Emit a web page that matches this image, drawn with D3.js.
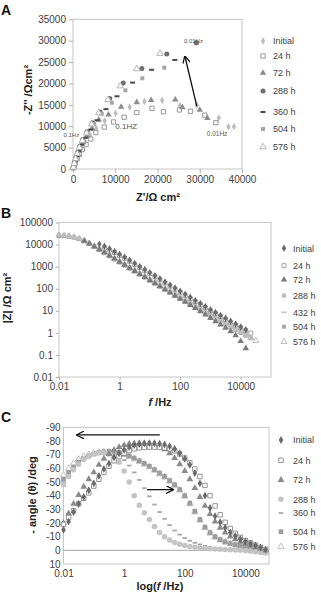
<!DOCTYPE html>
<html>
<head>
<meta charset="utf-8">
<script src="https://cdn.jsdelivr.net/npm/d3@7"></script>
<style>
body { margin: 0; background: #fff; }
text { font-family: "Liberation Sans", Arial, sans-serif; }
</style>
</head>
<body>
<div id="chart"></div>
<script>
// ---- panel A: Nyquist, [Z', -Z''] ----
const nyqInitial = [[100,250],[300,800],[600,1600],[1000,2600],[1500,3700],[2100,4900],[2900,6300],[4000,7900],[5500,9500],[7500,11300],[10100,13000],[13400,14500],[16900,15800],[21100,16000],[25300,14800],[29300,14900],[34500,11900],[36800,9900],[38100,9900]];
const nyq24 = [[100,250],[300,750],[600,1500],[1000,2400],[1500,3400],[2200,4500],[3100,5700],[4200,7000],[5400,8500],[7400,9800],[9600,11000],[12100,12100],[15100,13200],[18700,14200],[21400,13400],[25200,13800],[27800,13500],[31200,12600],[33800,10800]];
const nyq72 = [[150,500],[400,1300],[700,2300],[1100,3500],[1700,4800],[2400,6200],[3300,7800],[4500,9500],[6100,11500],[8400,12700],[11400,14500],[15100,15600],[18500,16100],[24200,16200],[25900,14400],[30000,13800],[31800,11900]];
const nyq288 = [[80,350],[200,900],[400,1700],[700,2700],[1100,3900],[1600,5300],[2300,6900],[3300,8700],[4600,10800],[6400,13300],[8700,16500],[11900,20100],[16300,23500],[22200,26900],[29200,29500]];
const nyq360 = [[80,350],[250,1000],[500,1900],[900,3000],[1400,4200],[2100,5700],[3000,7300],[4200,9200],[5700,11400],[7800,14000],[10400,17000],[14100,20200],[18600,23200],[24100,25500]];
const nyq504 = [[120,400],[400,1400],[750,2400],[1200,3600],[1800,5000],[2600,6600],[3600,8400],[5000,10500],[6800,12900],[9200,15500],[12400,18400],[16400,21200],[21600,23700]];
const nyq576 = [[100,400],[300,1300],[600,2400],[1000,3600],[1500,5000],[2200,6600],[3200,8400],[4400,10500],[6100,13100],[8300,16200],[11200,19400],[15100,23400],[20600,27000]];
const ticksAx = [0, 10000, 20000, 30000, 40000];
const ticksAy = [0, 5000, 10000, 15000, 20000, 25000, 30000, 35000];

// ---- shared frequencies (Hz) for panels B and C ----
const freq = [0.01,0.0147,0.0215,0.0316,0.0464,0.0681,0.1,0.147,0.215,0.316,0.464,0.681,1,1.47,2.15,3.16,4.64,6.81,10,14.7,21.5,31.6,46.4,68.1,100,147,215,316,464,681,1000,1470,2150,3160,4640,6810,10000,14700,21500,31600,46400];

// ---- panel B: |Z| ----
const bInitial = [null,null,null,null,null,null,null,null,10500,8320,6460,4900,3630,2690,1950,1410,1020,741,537,389,282,204,148,107,77.6,56.2,40.7,29.5,21.4,15.5,11.2,8.32,6.17,4.57,3.39,2.51,1.86,1.38];
const b24 = [null,null,null,null,null,null,null,null,null,7080,5620,4370,3240,2400,1740,1260,912,661,479,347,251,182,132,95.5,69.2,50.1,36.3,26.3,19.1,13.8,10,7.41,5.5,4.07,3.02,2.24,1.7,1.29,0.977];
const b72 = [null,null,null,null,null,14500,11000,8130,6030,4370,3160,2290,1660,1200,871,631,457,331,240,174,126,91.2,66.1,47.9,34.7,25.1,18.2,13.2,9.33,6.61,4.68,3.31,2.34,1.66,1.17,0.759,0.417,0.2];
const b288 = [28200,26900,25100,22400,19100,15100,11500,8510,6170,4470,3240,2340,1700,1230,891,661,479,355,257,191,138,102,74.1,55,39.8,29.5,21.9,15.8,11.7,8.71,6.31,4.68,3.47,2.57,1.91,1.41,1.05,0.776,0.589];
const b432 = [26000,25000,23400,20900,17800,14100,10700,7900,5740,4160,3010,2180,1580,1140,830,615,445,330,239,178,128,95,69,51,37,27.4,20.4,14.7,10.9,8.1,5.87,4.35,3.23,2.39,1.78,1.31,0.98,0.72,0.55];
const b504 = [24500,23800,22600,20500,17600,14000,10600,7800,5600,4050,2920,2100,1520,1100,795,590,428,318,230,171,124,92,67,50,36,26.8,20,14.4,10.7,7.95,5.8,4.3,3.2,2.38,1.77,1.32,0.99,0.74,0.57];
const b576 = [25800,25200,24000,21600,18600,14800,11300,8400,6100,4420,3200,2320,1690,1220,885,655,475,352,255,190,137,101,73.5,54.5,39.5,29.3,21.8,15.9,11.8,8.8,6.4,4.75,3.55,2.65,1.98,1.48,1.1,0.82,0.6,0.44];
const ticksBx = [0.01, 1, 100, 10000];
const ticksBy = [0.01, 0.1, 1, 10, 100, 1000, 10000, 100000];

// ---- panel C: phase angle (deg) ----
const cInitial = [-15,-21,-28,-34,-39,-44,-49,-54.5,-59.5,-63.5,-68,-71,-73.5,-75.5,-77,-77.8,-78.2,-78.4,-78.3,-78,-77.4,-76.2,-74.2,-71,-67,-62.5,-56.5,-49,-40,-31,-25,-20.5,-16.5,-13,-10.5,-8.3,-6.5,-5,-3.5,-2,-0.5];
const c24 = [-19,-24,-29,-34,-38,-42,-47,-52,-57,-61.5,-65.5,-68.5,-71,-73,-74.3,-75,-75.3,-75.5,-75.5,-75.3,-75,-74.2,-72.8,-70.5,-67.5,-64,-59.5,-54,-47.5,-40,-32.5,-26,-20.5,-16,-12.5,-9.5,-7.2,-5.4,-3.8,-2.2,-0.7];
const c72 = [-20,-27,-34,-40.5,-46.5,-52,-57,-62.5,-67,-70.5,-73.5,-75.5,-77,-77.8,-78.2,-78.3,-78.2,-78,-77.3,-76,-74,-71,-67.5,-63,-58,-52,-45.5,-39,-32.5,-26.5,-21,-16.5,-13,-10,-8,-6.2,-4.8,-3.5,-2.3,-1.2,0];
const c288 = [-48,-54,-59,-63,-66.5,-69,-70.5,-71.2,-71.3,-70.5,-68,-64.5,-58,-50,-40,-33,-27.5,-22.5,-17.5,-13,-10,-7.5,-5.8,-4.5,-3.5,-2.8,-2.2,-1.8,-1.5,-1.2,-1,-0.8,-0.6,-0.4,-0.2,0,0.3,0.6,1,1.5,2];
const c360 = [-50,-55,-59.5,-63,-66,-68.5,-70.5,-71.5,-72,-72,-71,-69,-66,-62,-57,-51.5,-45.5,-39.5,-33.5,-28,-23,-18.5,-14.5,-11.5,-9,-7,-5.5,-4.3,-3.3,-2.5,-1.8,-1.2,-0.8,-0.4,-0.1,0.2,0.5,0.8,1.1,1.5,2];
const c504 = [-52,-57,-61,-64.5,-67,-69,-70.5,-71.5,-72,-72.3,-72.2,-71.5,-70.5,-69,-67.5,-65.5,-63.5,-61.5,-59,-56.5,-54,-51,-48,-44.5,-40,-34.5,-28.5,-22.5,-17,-13,-10,-7.8,-6.2,-5,-4,-3.2,-2.5,-1.6,-0.6,0.5,1.5];
const c576 = [-55,-60,-63.5,-66.5,-68.5,-70,-71,-71.7,-72,-72,-71.7,-71,-70,-68.5,-66.8,-65,-63,-61,-58.5,-56,-53.5,-50.5,-47.5,-44,-39.5,-34,-28,-22,-16.5,-12.5,-9.5,-7.5,-6,-4.8,-3.8,-3,-2.3,-1.5,-0.5,0.5,1.5];
const ticksCx = [0.01, 1, 100, 10000];
const ticksCy = [-90,-80,-70,-60,-50,-40,-30,-20,-10,0,10];

const svg = d3.select("#chart").append("svg")
    .attr("width", 321)
    .attr("height", 593);

const frameColor = "#c6c6c6", tickText = "#404040";

function axisStyle(g) {
    g.select(".domain").remove();
    g.selectAll(".tick line").attr("stroke", "#b0b0b0");
    g.selectAll(".tick text").attr("fill", tickText).style("font-size", "10px");
}

const symbols = {diamond: d3.symbolDiamond, square: d3.symbolSquare, triangle: d3.symbolTriangle, circle: d3.symbolCircle};

function marker(g, m, x, y) {
    if (m.shape === "dash") {
        g.append("rect")
            .attr("x", x - m.w / 2).attr("y", y - m.h / 2)
            .attr("width", m.w).attr("height", m.h)
            .attr("fill", m.color);
        return;
    }
    g.append("path")
        .attr("transform", `translate(${x},${y})`)
        .attr("d", d3.symbol().type(symbols[m.shape]).size(m.size)())
        .attr("fill", m.open ? "#fff" : m.color)
        .attr("stroke", m.open ? m.color : "none")
        .attr("stroke-width", 0.9);
}

function legend(items, mx, tx, ys) {
    const g = svg.append("g");
    items.forEach((it, i) => {
        marker(g, it, mx, ys[i]);
        g.append("text")
            .attr("x", tx).attr("y", ys[i] + 3.3)
            .attr("fill", tickText)
            .style("font-size", "9px")
            .text(it.name);
    });
}

function arrow(x1, y1, x2, y2) {
    svg.append("line")
        .attr("x1", x1).attr("y1", y1).attr("x2", x2).attr("y2", y2)
        .attr("stroke", "#111").attr("stroke-width", 1.3)
        .attr("marker-end", "url(#head)");
}

svg.append("defs").append("marker")
    .attr("id", "head")
    .attr("viewBox", "0 0 10 10")
    .attr("refX", 9).attr("refY", 5)
    .attr("markerWidth", 6).attr("markerHeight", 6)
    .attr("orient", "auto")
    .append("path")
    .attr("d", "M0,0 L10,5 L0,10")
    .attr("fill", "none")
    .attr("stroke", "#111")
    .attr("stroke-width", 1.6);

function panelLetter(t, y) {
    svg.append("text").attr("x", 1).attr("y", y)
        .style("font-size", "14px").style("font-weight", "bold")
        .attr("fill", "#111").text(t);
}

function yTitle(x, y, parts) {
    const t = svg.append("text")
        .attr("transform", `translate(${x},${y}) rotate(-90)`)
        .attr("text-anchor", "middle")
        .style("font-size", "11px").style("font-weight", "bold")
        .attr("fill", "#222");
    parts.forEach(p => t.append("tspan").style("font-style", p[1] ? "italic" : "normal").text(p[0]));
}

function xTitle(x, y, parts) {
    const t = svg.append("text")
        .attr("x", x).attr("y", y)
        .attr("text-anchor", "middle")
        .style("font-size", "11px").style("font-weight", "bold")
        .attr("fill", "#222");
    parts.forEach(p => t.append("tspan").style("font-style", p[1] ? "italic" : "normal").text(p[0]));
}

// ================= Panel A =================
const xA = d3.scaleLinear().domain([0, 40000]).range([73, 242]);
const yA = d3.scaleLinear().domain([0, 35000]).range([169, 19.3]);

svg.append("rect").attr("x", 73).attr("y", 19.3).attr("width", 169).attr("height", 149.7)
    .attr("fill", "none").attr("stroke", frameColor);
svg.append("g").attr("transform", "translate(0,169)")
    .call(d3.axisBottom(xA).tickValues(ticksAx).tickSize(4).tickPadding(3).tickFormat(d => d))
    .call(axisStyle);
svg.append("g").attr("transform", "translate(73,0)")
    .call(d3.axisLeft(yA).tickValues(ticksAy).tickSize(4).tickPadding(3).tickFormat(d => d))
    .call(axisStyle);

const seriesA = [
    {name: "Initial", data: nyqInitial, shape: "diamond", size: 16, color: "#bdbdbd"},
    {name: "24 h", data: nyq24, shape: "square", size: 18, color: "#8c8c8c", open: true},
    {name: "72 h", data: nyq72, shape: "triangle", size: 18, color: "#8c8c8c"},
    {name: "288 h", data: nyq288, shape: "circle", size: 20, color: "#6e6e6e"},
    {name: "360 h", data: nyq360, shape: "dash", w: 5, h: 2, color: "#4a4a4a"},
    {name: "504 h", data: nyq504, shape: "square", size: 16, color: "#a6a6a6"},
    {name: "576 h", data: nyq576, shape: "triangle", size: 18, color: "#ababab", open: true}
];
const gA = svg.append("g");
seriesA.forEach(s => s.data.forEach(d => marker(gA, s, xA(d[0]), yA(d[1]))));

const noteA = [
    {t: "0.01Hz", x: 28500, y: 29350, fs: 6},
    {t: "0.1Hz", x: -400, y: 7400, fs: 6},
    {t: "0.1HZ", x: 12600, y: 9300, fs: 8},
    {t: "0.01Hz", x: 34100, y: 7600, fs: 6.5}
];
noteA.forEach(n => svg.append("text")
    .attr("x", xA(n.x)).attr("y", yA(n.y))
    .attr("text-anchor", "middle")
    .attr("fill", "#555")
    .style("font-size", n.fs + "px")
    .text(n.t));
// redraw the 0.01 Hz point of 288 h over its label
marker(gA, seriesA[3], xA(nyq288[nyq288.length - 1][0]), yA(nyq288[nyq288.length - 1][1]));
arrow(xA(29300), yA(14700), xA(26500), yA(26300));

legend(seriesA, 263, 273, [41, 56, 73, 91, 112, 129, 147]);
panelLetter("A", 15);
yTitle(32, 90, [["-Z'' /\u03A9cm\u00B2"]]);
xTitle(158, 201, [["Z'/\u03A9 cm\u00B2"]]);

// ================= Panel B =================
const xB = d3.scaleLog().domain([0.01, 1e5]).range([59, 271]);
const yB = d3.scaleLog().domain([0.01, 1e5]).range([377, 222.5]);

svg.append("rect").attr("x", 59).attr("y", 222.5).attr("width", 212).attr("height", 154.5)
    .attr("fill", "none").attr("stroke", frameColor);
svg.append("g").attr("transform", "translate(0,377)")
    .call(d3.axisBottom(xB).tickValues(ticksBx).tickSize(3).tickPadding(3).tickFormat(d => String(d)))
    .call(axisStyle);
svg.append("g").attr("transform", "translate(59,0)")
    .call(d3.axisLeft(yB).tickValues(ticksBy).tickSize(3).tickPadding(3).tickFormat(d => String(d)))
    .call(axisStyle);

const seriesB = [
    {name: "Initial", data: bInitial, shape: "diamond", size: 16, color: "#6a6a6a"},
    {name: "24 h", data: b24, shape: "square", size: 16, color: "#9a9a9a", open: true},
    {name: "72 h", data: b72, shape: "triangle", size: 18, color: "#7a7a7a"},
    {name: "288 h", data: b288, shape: "circle", size: 18, color: "#bdbdbd"},
    {name: "432 h", data: b432, shape: "dash", w: 5.5, h: 1.6, color: "#c2c2c2"},
    {name: "504 h", data: b504, shape: "square", size: 16, color: "#a8a8a8"},
    {name: "576 h", data: b576, shape: "triangle", size: 16, color: "#b8b8b8", open: true}
];
const gB = svg.append("g");
seriesB.slice().reverse().forEach(s => s.data.forEach((v, i) => {
    if (v !== null) marker(gB, s, xB(freq[i]), yB(v));
}));
legend(seriesB, 284, 293, [248.3, 265.7, 279.7, 295.7, 312.3, 326.7, 341.7]);
panelLetter("B", 218);
yTitle(11, 298, [["|Z| /\u03A9 cm\u00B2"]]);
xTitle(160, 406, [["f", true], [" /Hz"]]);

// ================= Panel C =================
const xC = d3.scaleLog().domain([0.01, 60000]).range([63.5, 269]);
const yC = d3.scaleLinear().domain([10, -90]).range([564, 427.3]);

svg.append("rect").attr("x", 63.5).attr("y", 427.3).attr("width", 205.5).attr("height", 136.7)
    .attr("fill", "none").attr("stroke", frameColor);
svg.append("line")
    .attr("x1", 63.5).attr("x2", 269).attr("y1", yC(0)).attr("y2", yC(0))
    .attr("stroke", "#a8a8a8");
svg.append("g").attr("transform", "translate(0,564)")
    .call(d3.axisBottom(xC).tickValues(ticksCx).tickSize(0).tickPadding(6).tickFormat(d => String(d)))
    .call(axisStyle);
svg.append("g").attr("transform", "translate(63.5,0)")
    .call(d3.axisLeft(yC).tickValues(ticksCy).tickSize(0).tickPadding(3).tickFormat(d => String(d)))
    .call(axisStyle);

const seriesC = [
    {name: "Initial", data: cInitial, shape: "diamond", size: 18, color: "#6a6a6a"},
    {name: "24 h", data: c24, shape: "square", size: 20, color: "#8a8a8a", open: true},
    {name: "72 h", data: c72, shape: "triangle", size: 20, color: "#8a8a8a"},
    {name: "288 h", data: c288, shape: "circle", size: 24, color: "#c4c4c4"},
    {name: "360 h", data: c360, shape: "dash", w: 4.5, h: 1.8, color: "#a8a8a8"},
    {name: "504 h", data: c504, shape: "square", size: 22, color: "#9c9c9c"},
    {name: "576 h", data: c576, shape: "triangle", size: 18, color: "#bcbcbc", open: true}
];
const gC = svg.append("g");
seriesC.slice().reverse().forEach(s => s.data.forEach((v, i) => marker(gC, s, xC(freq[i]), yC(v))));

arrow(xC(15), yC(-84.4), xC(0.028), yC(-84.4));
arrow(xC(5.7), yC(-44.4), xC(41), yC(-44.4));

legend(seriesC, 281, 293, [440, 460.3, 480, 499.3, 513, 531.7, 546.7]);
panelLetter("C", 422);
yTitle(36, 495, [["- angle (\u03B8) /deg"]]);
xTitle(160, 590, [["log("], ["f", true], [" /Hz)"]]);
</script>
</body>
</html>
